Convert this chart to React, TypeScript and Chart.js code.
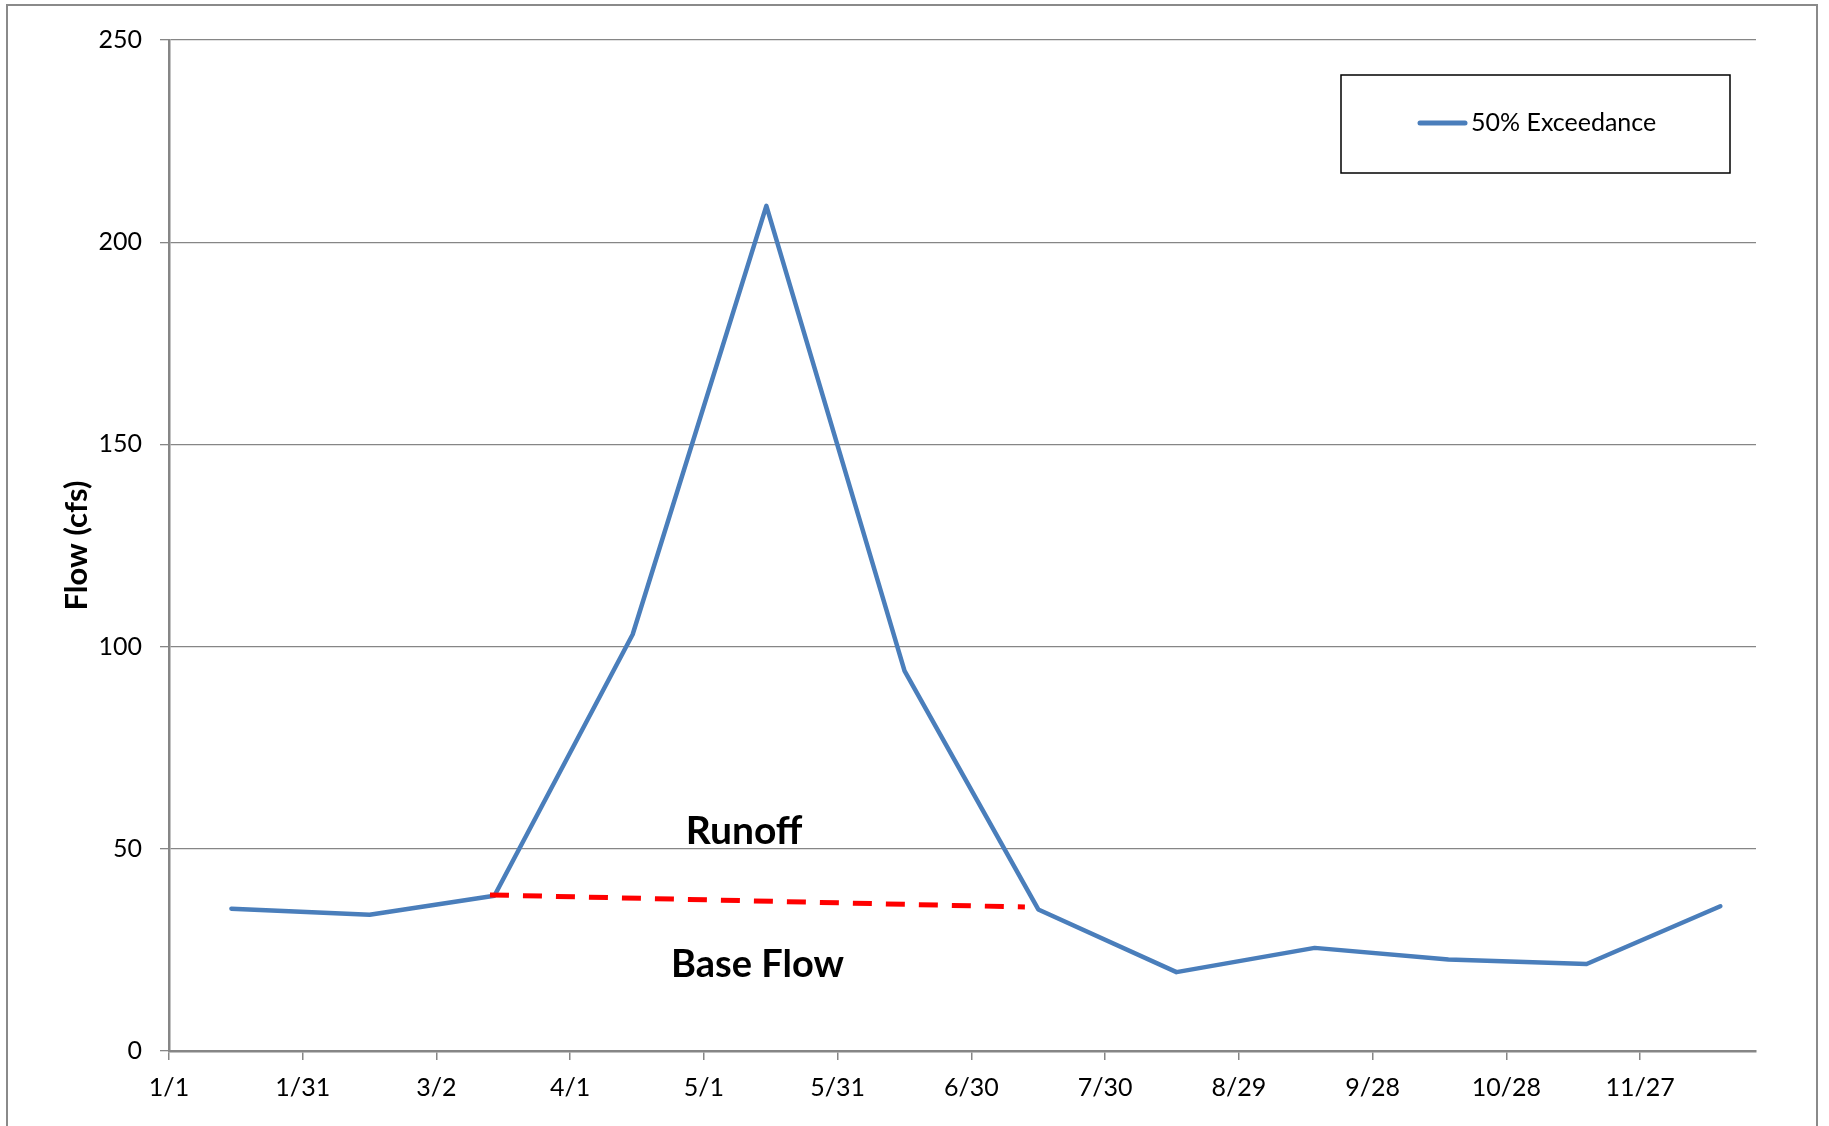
import { useEffect, useRef } from "react";
import { Chart, registerables } from "chart.js";

Chart.register(...registerables);

// Monthly 50% exceedance flow (cfs), sampled mid-month
const seriesLabel = "50% Exceedance";
const sampleDates = ["1/15", "2/15", "3/15", "4/15", "5/15", "6/15", "7/15", "8/15", "9/15", "10/15", "11/15", "12/15"];
const flowCfs = [35.2, 33.7, 38.4, 103, 209, 94, 35.0, 19.5, 25.5, 22.6, 21.5, 35.8];

// Base-flow separation line under the snowmelt hydrograph
const baseFlowDates = ["3/14", "7/12"];
const baseFlowCfs = [38.6, 35.6];

// Axis ticks
const xTickLabels = ["1/1", "1/31", "3/2", "4/1", "5/1", "5/31", "6/30", "7/30", "8/29", "9/28", "10/28", "11/27"];
const xAxisEnd = "12/23";
const yTicks = [0, 50, 100, 150, 200, 250];

// Area labels
const noteTexts = ["Runoff", "Base Flow"];
const noteDates = ["5/10", "5/13"];
const noteCfs = [54.4, 21.4];
const noteSizes = [39, 38];

const FONT = "Lato, 'Open Sans', sans-serif";
const GRID = "#868686";
const BLUE = "#4a7ebb";

function dayOfYear(md: string): number {
  const [m, d] = md.split("/").map(Number);
  return Math.round((Date.UTC(2010, m - 1, d) - Date.UTC(2010, 0, 1)) / 86400000);
}

function mdLabel(day: number): string {
  const dt = new Date(Date.UTC(2010, 0, 1) + day * 86400000);
  return `${dt.getUTCMonth() + 1}/${dt.getUTCDate()}`;
}

const xTickDays = xTickLabels.map(dayOfYear);

const framePlugin = {
  id: "frame",
  beforeDraw(chart: any) {
    const { ctx, height } = chart;
    ctx.save();
    ctx.fillStyle = "#ffffff";
    ctx.fillRect(0, 0, chart.width, height);
    ctx.strokeStyle = "#8a8a8a";
    ctx.lineWidth = 2;
    ctx.strokeRect(7, 5, 1810, height + 10);
    ctx.restore();
  },
};

const legendBoxPlugin = {
  id: "legendBox",
  afterDraw(chart: any) {
    const { ctx } = chart;
    const ds = chart.data.datasets[1];
    ctx.save();
    ctx.strokeStyle = "#000000";
    ctx.lineWidth = 1.5;
    ctx.strokeRect(1341, 75, 389, 98);
    ctx.strokeStyle = ds.borderColor;
    ctx.lineWidth = 5;
    ctx.lineCap = "round";
    ctx.beginPath();
    ctx.moveTo(1420, 123);
    ctx.lineTo(1465, 123);
    ctx.stroke();
    ctx.fillStyle = "#000000";
    ctx.font = `25px ${FONT}`;
    ctx.textAlign = "left";
    ctx.textBaseline = "middle";
    ctx.fillText(ds.label, 1471, 123);
    ctx.restore();
  },
};

const notesPlugin = {
  id: "notes",
  afterDatasetsDraw(chart: any) {
    const { ctx, scales } = chart;
    ctx.save();
    ctx.fillStyle = "#000000";
    ctx.textAlign = "center";
    ctx.textBaseline = "middle";
    noteTexts.forEach((t, i) => {
      ctx.font = `bold ${noteSizes[i]}px ${FONT}`;
      ctx.fillText(t, scales.x.getPixelForValue(dayOfYear(noteDates[i])), scales.y.getPixelForValue(noteCfs[i]));
    });
    ctx.restore();
  },
};

export default function App() {
  const canvasRef = useRef<HTMLCanvasElement | null>(null);

  useEffect(() => {
    document.body.style.margin = "0";
    const canvas = canvasRef.current;
    if (!canvas) return;
    const tickFont = { family: FONT, size: 25 };
    const chart = new Chart(canvas, {
      type: "line",
      data: {
        datasets: [
          {
            label: "Base Flow",
            data: baseFlowDates.map((d, i) => ({ x: dayOfYear(d), y: baseFlowCfs[i] })),
            borderColor: "#ff0000",
            borderWidth: 5,
            borderDash: [19, 14],
            pointRadius: 0,
            fill: false,
            tension: 0,
          },
          {
            label: seriesLabel,
            data: sampleDates.map((d, i) => ({ x: dayOfYear(d), y: flowCfs[i] })),
            borderColor: BLUE,
            borderWidth: 4.5,
            borderJoinStyle: "round",
            borderCapStyle: "round",
            pointRadius: 0,
            fill: false,
            tension: 0,
          },
        ],
      },
      options: {
        animation: false,
        responsive: false,
        devicePixelRatio: 1,
        layout: { padding: { top: 40, right: 73, left: 0, bottom: 0 } },
        plugins: { legend: { display: false }, tooltip: { enabled: false } },
        scales: {
          x: {
            type: "linear",
            min: 0,
            max: dayOfYear(xAxisEnd),
            afterBuildTicks: (s: any) => {
              s.ticks = xTickDays.map((v) => ({ value: v }));
            },
            afterFit: (s: any) => {
              s.height = 75;
            },
            grid: { drawOnChartArea: false, drawTicks: true, tickLength: 9, color: GRID, lineWidth: 1.5 },
            border: { color: GRID, width: 2.5 },
            ticks: {
              callback: (v: any) => mdLabel(Number(v)),
              font: tickFont,
              color: "#000000",
              padding: 13,
              maxRotation: 0,
              autoSkip: false,
            },
          },
          y: {
            type: "linear",
            min: yTicks[0],
            max: yTicks[yTicks.length - 1],
            afterBuildTicks: (s: any) => {
              s.ticks = yTicks.map((v) => ({ value: v }));
            },
            afterFit: (s: any) => {
              s.width = 169;
            },
            grid: { color: GRID, lineWidth: 1.3, tickLength: 9 },
            border: { color: GRID, width: 2.5 },
            ticks: { font: tickFont, color: "#000000", padding: 18 },
            title: {
              display: true,
              text: "Flow (cfs)",
              color: "#000000",
              font: { family: FONT, size: 31, weight: "bold" },
              padding: { top: 58, bottom: 0 },
            },
          },
        },
      },
      plugins: [framePlugin, legendBoxPlugin, notesPlugin],
    } as any);
    return () => chart.destroy();
  }, []);

  return (
    <div style={{ width: 1829, height: 1126 }}>
      <canvas ref={canvasRef} width={1829} height={1126} style={{ display: "block" }} />
    </div>
  );
}
